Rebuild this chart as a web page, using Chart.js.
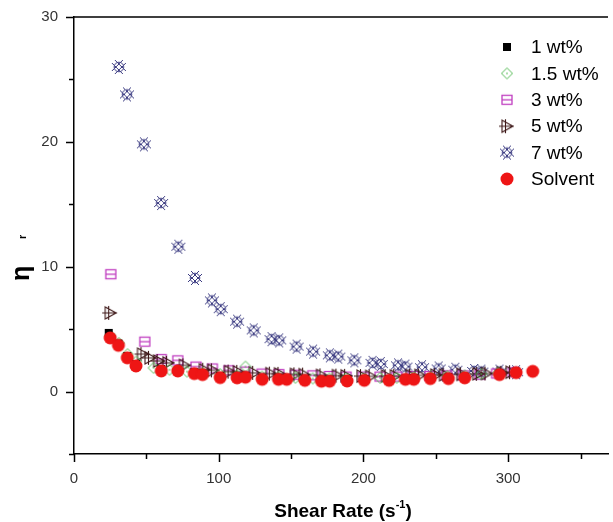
<!DOCTYPE html>
<html><head><meta charset="utf-8">
<script src="https://cdn.jsdelivr.net/npm/chart.js@4.4.0/dist/chart.umd.min.js"></script>
<style>html,body{margin:0;padding:0;background:#fff;overflow:hidden}canvas{display:block}</style>
</head><body>
<canvas id="c" width="613" height="522"></canvas>
<script>
// ---- data ----
const seriesNames = ['1 wt%', '1.5 wt%', '3 wt%', '5 wt%', '7 wt%', 'Solvent'];
const xTickLabels = [0, 100, 200, 300];
const yTickLabels = [0, 10, 20, 30];

const x1wt = [24, 30.7, 36.8, 42.8, 60.3, 71.7, 83.1, 88.8, 101, 112.7, 118.5, 130, 141.3, 147, 159.5, 171, 176.6, 188.7, 200.6, 217.7, 229, 234.8, 246.2, 258.7, 270, 294, 305.5];
const y1wt = [4.7, 3.85, 2.85, 2.2, 1.8, 1.75, 1.55, 1.45, 1.25, 1.2, 1.25, 1.1, 1.08, 1.05, 1.0, 0.95, 0.95, 0.95, 1.0, 1.0, 1.05, 1.08, 1.12, 1.15, 1.2, 1.45, 1.6];

const x15wt = [25, 31, 37, 43, 55, 66, 78, 89, 101, 112.7, 118.5, 130, 141.5, 153, 165, 176.5, 188, 200, 211.5, 223, 235, 246.5, 258, 270, 281.5, 293];
const y15wt = [4.5, 3.9, 3.0, 2.4, 1.9, 1.75, 1.6, 1.5, 1.4, 1.3, 2.0, 1.2, 1.15, 1.1, 1.05, 1.05, 1.05, 1.05, 1.1, 1.1, 1.15, 1.2, 1.25, 1.3, 1.4, 1.5];

const x3wt = [25.4, 48.9, 60.3, 71.7, 84.3, 95.6, 107, 118.5, 130, 141.5, 153, 165, 176.5, 188, 200, 211.5, 223, 234.5, 246, 257.5, 269, 280.5, 292, 303.5];
const y3wt = [9.4, 4.0, 2.6, 2.5, 2.0, 1.85, 1.7, 1.6, 1.44, 1.4, 1.35, 1.3, 1.25, 1.2, 1.2, 1.2, 1.2, 1.25, 1.25, 1.3, 1.3, 1.35, 1.45, 1.55];

const x5wt = [25, 47.3, 52.5, 58.5, 64.9, 76.3, 90, 96, 107.5, 113.5, 124.5, 136, 142, 153, 159, 171, 182, 188, 199, 205, 216, 222, 233, 239, 250, 256, 268, 279, 285, 296, 302];
const y5wt = [6.3, 3.0, 2.7, 2.45, 2.3, 2.1, 1.75, 1.7, 1.6, 1.58, 1.5, 1.44, 1.42, 1.38, 1.36, 1.3, 1.28, 1.26, 1.24, 1.22, 1.24, 1.26, 1.28, 1.3, 1.32, 1.35, 1.38, 1.42, 1.45, 1.5, 1.55];

const x7wt = [31, 36.6, 48.3, 60.2, 72.1, 83.6, 95.3, 101.4, 112.7, 124.2, 136.5, 141.8, 153.8, 165.2, 176.8, 182.6, 193.7, 206.3, 212, 223.9, 229, 240.5, 252, 263.5, 276.5, 281.5, 294, 305.5];
const y7wt = [26.0, 23.8, 19.8, 15.1, 11.6, 9.1, 7.3, 6.6, 5.6, 4.9, 4.2, 4.1, 3.6, 3.2, 2.9, 2.8, 2.5, 2.3, 2.2, 2.1, 2.0, 1.95, 1.85, 1.75, 1.65, 1.6, 1.6, 1.55];

const xSolvent = [25, 30.7, 36.8, 42.8, 60.3, 71.7, 83.1, 88.8, 101, 112.7, 118.5, 130, 141.3, 147, 159.5, 171, 176.6, 188.7, 200.6, 217.7, 229, 234.8, 246.2, 258.7, 270, 294, 305.5, 317];
const ySolvent = [4.3, 3.7, 2.7, 2.05, 1.65, 1.65, 1.44, 1.36, 1.12, 1.1, 1.15, 0.98, 0.98, 0.98, 0.9, 0.83, 0.83, 0.85, 0.9, 0.9, 0.98, 0.98, 1.04, 1.04, 1.1, 1.36, 1.52, 1.62];

// ---- marker images ----
function makeMarker(kind) {
  const S = 22, c = document.createElement('canvas');
  c.width = S; c.height = S;
  const g = c.getContext('2d');
  g.translate(S / 2, S / 2);
  switch (kind) {
    case 'square':
      g.fillStyle = '#000'; g.fillRect(-4, -4, 8, 8); break;
    case 'diamond':
      g.strokeStyle = '#55bb55'; g.lineWidth = 1;
      g.beginPath(); g.moveTo(0, -5.5); g.lineTo(5.5, 0); g.lineTo(0, 5.5); g.lineTo(-5.5, 0); g.closePath(); g.stroke();
      g.fillStyle = '#55bb55'; g.fillRect(-0.7, -0.7, 1.4, 1.4); break;
    case 'sqline':
      g.strokeStyle = '#c03ec0'; g.lineWidth = 1.3;
      g.strokeRect(-5, -4.5, 10, 9);
      g.beginPath(); g.moveTo(-5, 0); g.lineTo(5, 0); g.stroke(); break;
    case 'tri':
      g.strokeStyle = '#3e1818'; g.lineWidth = 1.1;
      g.beginPath(); g.moveTo(-5, -6); g.lineTo(6, 0); g.lineTo(-5, 6); g.closePath();
      g.moveTo(-8, 0); g.lineTo(7, 0);
      g.moveTo(-1.5, -7); g.lineTo(-1.5, 7); g.stroke(); break;
    case 'lattice':
      g.strokeStyle = '#3c3c82'; g.lineWidth = 1;
      g.beginPath(); g.arc(0, 0, 4.8, 0, Math.PI * 2); g.stroke();
      g.beginPath();
      g.moveTo(-7, -4); g.lineTo(4, 7);
      g.moveTo(-4, -7); g.lineTo(7, 4);
      g.moveTo(-7, 4); g.lineTo(4, -7);
      g.moveTo(-4, 7); g.lineTo(7, -4);
      g.stroke();
      break;
    case 'circle':
      g.fillStyle = '#ee1515'; g.beginPath(); g.arc(0, 0, 6.5, 0, Math.PI * 2); g.fill(); break;
  }
  return c;
}
const markerKinds = ['square', 'diamond', 'sqline', 'tri', 'lattice', 'circle'];
const markers = markerKinds.map(makeMarker);

const xs = [x1wt, x15wt, x3wt, x5wt, x7wt, xSolvent];
const ys = [y1wt, y15wt, y3wt, y5wt, y7wt, ySolvent];
const drawOrder = [1, 2, 4, 3, 5, 0];

const datasets = seriesNames.map((name, i) => ({
  label: name,
  data: xs[i].map((v, k) => ({ x: v, y: ys[i][k] })),
  pointStyle: markers[i],
  showLine: false,
  order: drawOrder[i]
}));

const FONT = "'Liberation Sans', Arial, sans-serif";

const decor = {
  id: 'decor',
  afterDraw(chart) {
    const { ctx, chartArea: a, scales: { x, y } } = chart;
    ctx.save();
    ctx.strokeStyle = '#000'; ctx.lineWidth = 1.5;
    ctx.beginPath();
    for (let v = 0; v <= 350; v += 50) {
      const px = Math.round(x.getPixelForValue(v)) + 0.5;
      const L = v % 100 === 0 ? 8 : 5;
      ctx.moveTo(px, a.bottom); ctx.lineTo(px, a.bottom + L);
    }
    for (let v = -5; v <= 30; v += 5) {
      const py = Math.round(y.getPixelForValue(v)) + 0.5;
      const L = v % 10 === 0 ? 8 : 5;
      ctx.moveTo(a.left - L, py); ctx.lineTo(a.left, py);
    }
    ctx.moveTo(a.left, a.top); ctx.lineTo(a.right, a.top);
    ctx.stroke();

    // x title
    ctx.fillStyle = '#000';
    ctx.textBaseline = 'alphabetic';
    const main = 'Shear Rate (s';
    ctx.font = 'bold 19px ' + FONT;
    const w1 = ctx.measureText(main).width;
    ctx.font = 'bold 11px ' + FONT;
    const w2 = ctx.measureText('-1').width;
    ctx.font = 'bold 19px ' + FONT;
    const w3 = ctx.measureText(')').width;
    const cx = 343, base = 517;
    let sx = cx - (w1 + w2 + w3) / 2;
    ctx.textAlign = 'left';
    ctx.fillText(main, sx, base);
    ctx.font = 'bold 11px ' + FONT;
    ctx.fillText('-1', sx + w1, base - 9);
    ctx.font = 'bold 19px ' + FONT;
    ctx.fillText(')', sx + w1 + w2, base);

    // y title
    ctx.save();
    ctx.translate(29, 281);
    ctx.rotate(-Math.PI / 2);
    ctx.font = 'bold 25px ' + FONT;
    ctx.textAlign = 'left';
    ctx.fillText('\u03b7', 0, 0);
    ctx.font = 'bold 11px ' + FONT;
    ctx.fillText('r', 42, -3);
    ctx.restore();

    // legend
    ctx.font = '19px ' + FONT;
    ctx.textAlign = 'left';
    ctx.textBaseline = 'middle';
    ctx.fillStyle = '#000';
    seriesNames.forEach((name, i) => {
      const yy = 47 + i * 26.4;
      const m = markers[i];
      ctx.drawImage(m, 507 - m.width / 2, yy - m.height / 2);
      ctx.fillText(name, 531, yy + 1);
    });
    ctx.restore();
  }
};

new Chart(document.getElementById('c'), {
  type: 'scatter',
  data: { datasets },
  plugins: [decor],
  options: {
    responsive: false,
    animation: false,
    devicePixelRatio: 1,
    layout: { padding: { top: 13, right: 0, left: 0, bottom: 0 } },
    plugins: { legend: { display: false }, tooltip: { enabled: false } },
    scales: {
      x: {
        type: 'linear', min: 0, max: 369,
        afterBuildTicks: s => { s.ticks = xTickLabels.map(v => ({ value: v })); },
        afterFit: s => { s.height = 68; },
        grid: { display: false },
        border: { display: true, color: '#000', width: 1.5 },
        ticks: { color: '#333', font: { size: 15, family: FONT }, padding: 8, maxRotation: 0 }
      },
      y: {
        type: 'linear', min: -5, max: 30,
        afterBuildTicks: s => { s.ticks = yTickLabels.map(v => ({ value: v })); },
        afterFit: s => { s.width = 74; },
        grid: { display: false },
        border: { display: true, color: '#000', width: 1.5 },
        ticks: { color: '#333', font: { size: 15, family: FONT }, padding: 8 }
      }
    }
  }
});
</script>
</body></html>
